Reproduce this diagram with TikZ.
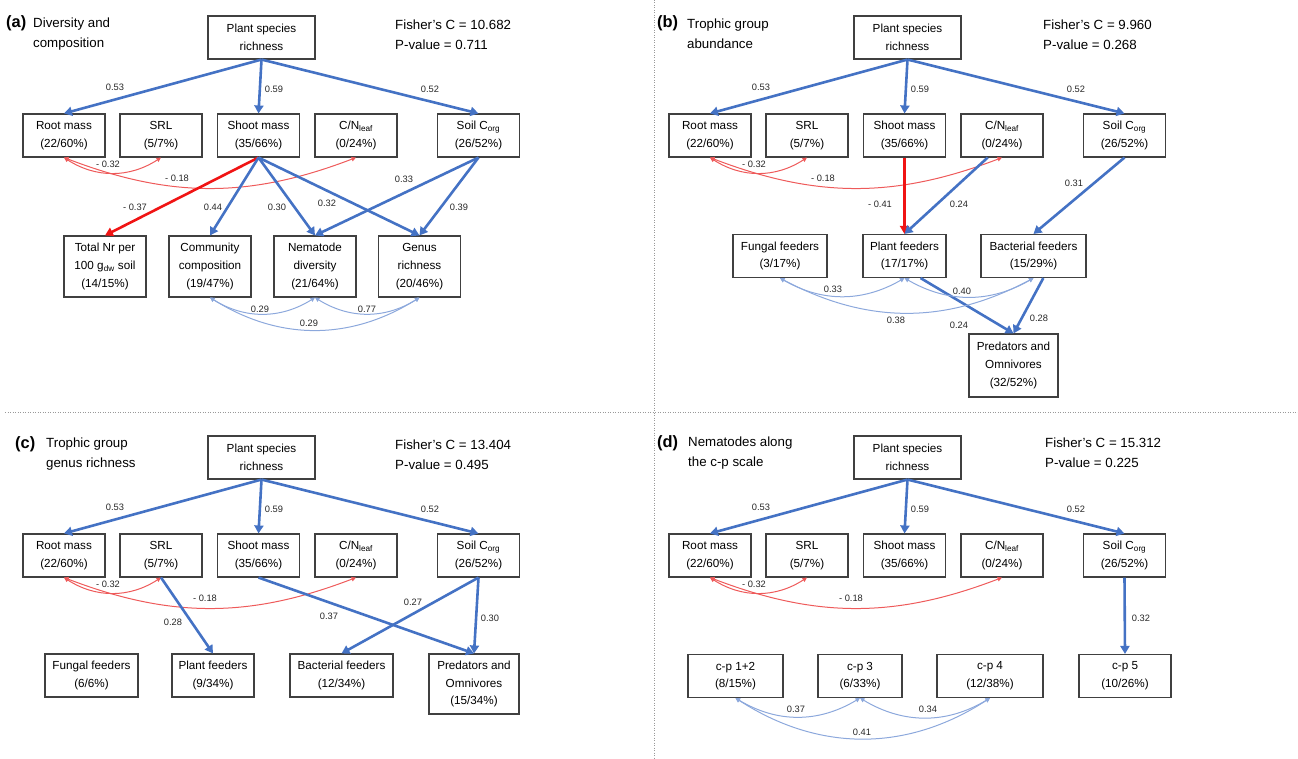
\documentclass[tikz,border=0pt]{standalone}
\usepackage{fontspec}
\setmainfont{Liberation Sans}
\usepackage{xcolor}
\usepackage{tikz}
\usetikzlibrary{arrows.meta,positioning}
\definecolor{semblue}{RGB}{68,114,196}
\definecolor{semred}{RGB}{240,20,20}
\definecolor{covblue}{RGB}{140,168,220}
\definecolor{covred}{RGB}{238,90,90}
\tikzset{
  var/.style={rectangle, draw=black!75, line width=1.1pt, fill=white, align=center,
              minimum width=82pt, minimum height=43pt, inner sep=1pt,
              font=\fontsize{11.7}{17.7}\selectfont},
  coef/.style={inner sep=1pt, text=black!85, font=\fontsize{9.3}{11}\selectfont},
  fisher/.style={anchor=west, align=left, inner sep=0pt, font=\fontsize{13.3}{20}\selectfont},
  paneltitle/.style={anchor=west, align=left, inner sep=0pt, font=\fontsize{13.3}{20}\selectfont},
  paneltag/.style={anchor=base west, inner sep=0pt, font=\fontsize{16.4}{18}\selectfont\bfseries},
  pospath/.style={-{Triangle[length=8pt,width=9pt]}, draw=semblue, line width=2.6pt},
  negpath/.style={pospath, draw=semred},
  poscov/.style={{Triangle[length=4.5pt,width=4.5pt]}-{Triangle[length=4.5pt,width=4.5pt]},
                 draw=covblue, line width=1pt},
  negcov/.style={poscov, draw=covred},
  divider/.style={draw=black!40, line width=1pt, dash pattern=on 1pt off 1.5pt},
}
\begin{document}
\begin{tikzpicture}[x=1pt, y=-1pt]
  \useasboundingbox (0,0) rectangle (1298,759);
  \draw[divider] (5,412) -- (1298,412);
  \draw[divider] (654,0) -- (654,759);
  \foreach \p/\dx/\dy/\lx in {a/0/0/177, b/646/0/177, c/0/420/205, d/646/420/205} {
    \begin{scope}[shift={(\dx,\dy)}]
      \node[var, minimum width=107pt] (\p-plant) at (261.5,37.5) {Plant species\\ richness};
      \node[var] (\p-root) at (64,135.5) {Root mass\\ (22/60\%)};
      \node[var] (\p-srl) at (161,135.5) {SRL\\ (5/7\%)};
      \node[var] (\p-shoot) at (258.5,135.5) {Shoot mass\\ (35/66\%)};
      \node[var] (\p-cn) at (356,135.5) {C/N\textsubscript{leaf}\\ (0/24\%)};
      \node[var] (\p-soil) at (478.5,135.5) {Soil C\textsubscript{org}\\ (26/52\%)};
      \draw[pospath] (\p-plant.south) -- (\p-root.north);
      \draw[pospath] (\p-plant.south) -- (\p-shoot.north);
      \draw[pospath] (\p-plant.south) -- (\p-soil.north);
      \draw[negcov] (\p-root.south) to[bend right=33] (\p-srl.south);
      \draw[negcov] (\p-root.south) to[bend right=21] (\p-cn.south);
      \node[coef] (\p-k1) at (115,87) {0.53};
      \node[coef] (\p-k2) at (274,89) {0.59};
      \node[coef] (\p-k3) at (430,89) {0.52};
      \node[coef] (\p-k4) at (108,164.5) {- 0.32};
      \node[coef] (\p-k5) at (\lx,178) {- 0.18};
    \end{scope}
  }

  \node[paneltag] (a-tag) at (6,28) {(a)};
  \node[paneltitle] (a-title) at (33,34.5) {Diversity and\\ composition};
  \node[fisher] (a-fisher) at (395,35) {Fisher's C = 10.682\\ P-value = 0.711};
  \node[var, minimum height=61pt] (a-total) at (105,266.5) {Total Nr per\\ 100 g\textsubscript{dw} soil\\ (14/15\%)};
  \node[var, minimum height=61pt] (a-comm) at (210,266.5) {Community\\ composition\\ (19/47\%)};
  \node[var, minimum height=61pt] (a-nem) at (315,266.5) {Nematode\\ diversity\\ (21/64\%)};
  \node[var, minimum height=61pt] (a-genus) at (419.5,266.5) {Genus\\ richness\\ (20/46\%)};
  \draw[negpath] (a-shoot.south) -- (a-total.north);
  \draw[pospath] (a-shoot.south) -- (a-comm.north);
  \draw[pospath] (a-shoot.south) -- (a-nem.north);
  \draw[pospath] (a-shoot.south) -- (a-genus.north);
  \draw[pospath] (a-soil.south) -- (a-nem.north);
  \draw[pospath] (a-soil.south) -- (a-genus.north);
  \draw[poscov] (a-comm.south) to[bend right=32] (a-nem.south);
  \draw[poscov] (a-nem.south) to[bend right=32] (a-genus.south);
  \draw[poscov] (a-comm.south) to[bend right=32] (a-genus.south);
  \node[coef] (a-k6) at (135,207) {- 0.37};
  \node[coef] (a-k7) at (213,207) {0.44};
  \node[coef] (a-k8) at (277,207) {0.30};
  \node[coef] (a-k9) at (327,203) {0.32};
  \node[coef] (a-k10) at (404,179) {0.33};
  \node[coef] (a-k11) at (459,207) {0.39};
  \node[coef] (a-k12) at (260,309) {0.29};
  \node[coef] (a-k13) at (367,309) {0.77};
  \node[coef] (a-k14) at (309,323) {0.29};

  \node[paneltag] (b-tag) at (657,28) {(b)};
  \node[paneltitle] (b-title) at (687,33.5) {Trophic group\\ abundance};
  \node[fisher] (b-fisher) at (1043,35) {Fisher's C = 9.960\\ P-value = 0.268};
  \node[var, minimum width=94pt] (b-fungal) at (780,256) {Fungal feeders\\ (3/17\%)};
  \node[var, minimum width=83pt] (b-plantf) at (904.5,256) {Plant feeders\\ (17/17\%)};
  \node[var, minimum width=105pt] (b-bact) at (1033.5,256) {Bacterial feeders\\ (15/29\%)};
  \node[var, minimum width=89pt, minimum height=63pt] (b-pred) at (1013.5,365.5) {Predators and\\ Omnivores\\ (32/52\%)};
  \draw[negpath] (b-shoot.south) -- (b-plantf.north);
  \draw[pospath] (b-cn.-123) -- (b-plantf.north);
  \draw[pospath] (b-soil.south) -- (b-bact.north);
  \draw[pospath] (b-plantf.-54) -- (b-pred.north);
  \draw[pospath] (b-bact.-66) -- (b-pred.north);
  \draw[poscov] (b-fungal.south) to[bend right=30] (b-plantf.south);
  \draw[poscov] (b-plantf.south) to[bend right=30] (b-bact.south);
  \draw[poscov] (b-fungal.south) to[bend right=28] (b-bact.south);
  \node[coef] (b-k6) at (880,204) {- 0.41};
  \node[coef] (b-k7) at (959,204) {0.24};
  \node[coef] (b-k8) at (1074,183) {0.31};
  \node[coef] (b-k9) at (833,289) {0.33};
  \node[coef] (b-k10) at (962,291) {0.40};
  \node[coef] (b-k11) at (896,320) {0.38};
  \node[coef] (b-k12) at (959,325) {0.24};
  \node[coef] (b-k13) at (1039,318) {0.28};

  \node[paneltag] (c-tag) at (15,448) {(c)};
  \node[paneltitle] (c-title) at (46,454.3) {Trophic group\\ genus richness};
  \node[fisher] (c-fisher) at (395,455) {Fisher's C = 13.404\\ P-value = 0.495};
  \node[var, minimum width=93pt] (c-fungal) at (91.5,675.5) {Fungal feeders\\ (6/6\%)};
  \node[var] (c-plantf) at (213,675.5) {Plant feeders\\ (9/34\%)};
  \node[var, minimum width=103pt] (c-bact) at (341.5,675.5) {Bacterial feeders\\ (12/34\%)};
  \node[var, minimum width=90pt, minimum height=60pt] (c-pred) at (474,684) {Predators and\\ Omnivores\\ (15/34\%)};
  \draw[pospath] (c-srl.south) -- (c-plantf.north);
  \draw[pospath] (c-shoot.south) -- (c-pred.north);
  \draw[pospath] (c-soil.south) -- (c-bact.north);
  \draw[pospath] (c-soil.south) -- (c-pred.north);
  \node[coef] (c-k6) at (173,622) {0.28};
  \node[coef] (c-k7) at (329,616) {0.37};
  \node[coef] (c-k8) at (413,602) {0.27};
  \node[coef] (c-k9) at (490,618) {0.30};

  \node[paneltag] (d-tag) at (657,447) {(d)};
  \node[paneltitle] (d-title) at (688,453.3) {Nematodes along\\ the c-p scale};
  \node[fisher] (d-fisher) at (1045,453) {Fisher's C = 15.312\\ P-value = 0.225};
  \node[var, minimum width=95pt] (d-cp12) at (735.5,676) {c-p 1+2\\ (8/15\%)};
  \node[var, minimum width=84pt] (d-cp3) at (860,676) {c-p 3\\ (6/33\%)};
  \node[var, minimum width=106pt] (d-cp4) at (990,676) {c-p 4\\ (12/38\%)};
  \node[var, minimum width=92pt] (d-cp5) at (1125,676) {c-p 5\\ (10/26\%)};
  \draw[pospath] (d-soil.south) -- (d-cp5.north);
  \draw[poscov] (d-cp12.south) to[bend right=31] (d-cp3.south);
  \draw[poscov] (d-cp3.south) to[bend right=31] (d-cp4.south);
  \draw[poscov] (d-cp12.south) to[bend right=33] (d-cp4.south);
  \node[coef] (d-k6) at (1141,618) {0.32};
  \node[coef] (d-k7) at (796,709) {0.37};
  \node[coef] (d-k8) at (928,709) {0.34};
  \node[coef] (d-k9) at (862,732) {0.41};
\end{tikzpicture}
\end{document}
